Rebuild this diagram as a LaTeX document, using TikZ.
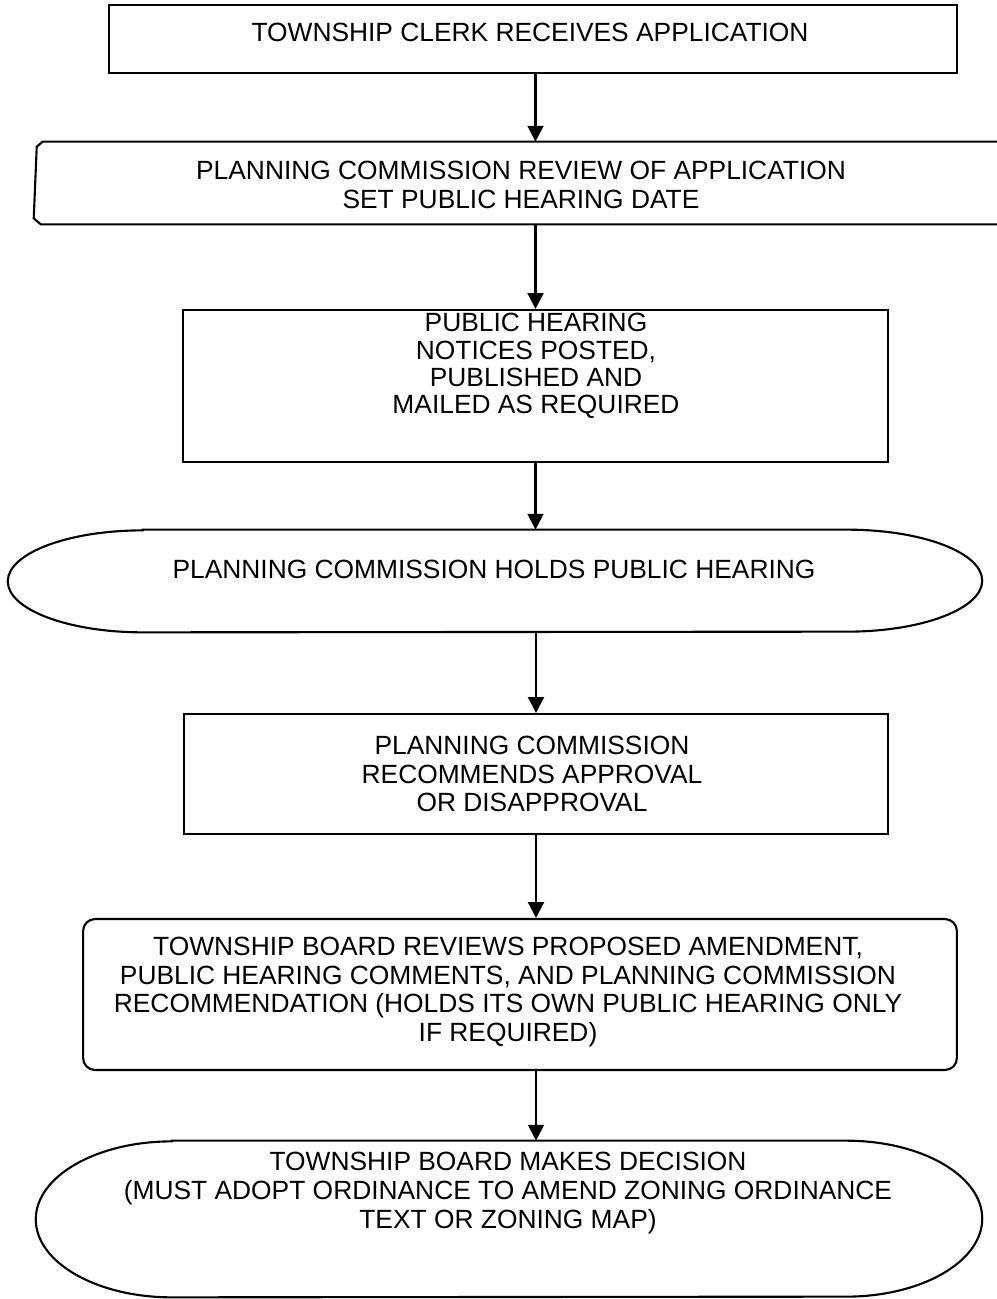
\documentclass[tikz,border=0pt]{standalone}
\usepackage{fontspec}
\setmainfont{Liberation Sans}
\usetikzlibrary{calc,arrows.meta}

\tikzset{
  stepbox/.style={draw, line width=1.2pt, inner sep=0pt},
  hollow/.style={inner sep=0pt},
  outline/.style={line width=1.2pt},
  caption/.style={align=center, inner sep=0pt, font=\fontsize{15}{16.3}\selectfont},
  flow/.style={line width=1.3pt, -{Triangle[width=9pt,length=9pt]}},
}

\begin{document}
\begin{tikzpicture}[x=0.02cm,y=-0.02cm]
\useasboundingbox (0,0) rectangle (997,1299);
% the steps
\node [stepbox, minimum width=16.96cm, minimum height=1.36cm] (clerk) at (533,39) {};
\node [hollow, minimum width=19.26cm, minimum height=1.64cm] (review) at (515.5,183) {};
\draw [outline] (review.north east) -- ($(review.north west)+(9,0)$) -- ($(review.north west)+(3,5)$) -- ($(review.south west)+(0,-6)$) -- ($(review.south west)+(7,0)$) -- (review.south east);
\node [stepbox, minimum width=14.1cm, minimum height=3.04cm] (notice) at (535.5,386) {};
\node [hollow, minimum width=19.48cm, minimum height=2.04cm] (hear) at (495,581) {};
\draw [outline] ($(hear.north west)+(135,0)$) -- ($(hear.north east)+(-135,0)$) arc[start angle=90,end angle=-90,x radius=2.7cm,y radius=1.02cm] -- ($(hear.south west)+(135,0)$) arc[start angle=270,end angle=90,x radius=2.7cm,y radius=1.02cm] -- cycle;
\node [stepbox, minimum width=14.08cm, minimum height=2.4cm] (rec) at (536,774) {};
\node [stepbox, rounded corners=0.24cm, minimum width=17.48cm, minimum height=3.02cm] (board) at (520,994.5) {};
\node [hollow, minimum width=18.92cm, minimum height=3.12cm] (decide) at (509,1219) {};
\draw [outline] ($(decide.north west)+(136,0)$) -- ($(decide.north east)+(-136,0)$) arc[start angle=90,end angle=-90,x radius=2.72cm,y radius=1.56cm] -- ($(decide.south west)+(136,0)$) arc[start angle=270,end angle=90,x radius=2.72cm,y radius=1.56cm] -- cycle;
% texts
\node [caption] (clerktxt) at (530,32) {TOWNSHIP CLERK RECEIVES APPLICATION};
\node [caption] (reviewtxt) at (521,185) {PLANNING COMMISSION REVIEW OF APPLICATION\\SET PUBLIC HEARING DATE};
\node [caption, font=\fontsize{15}{15.5}\selectfont] (noticetxt) at (536,366) {PUBLIC HEARING\\NOTICES POSTED,\\PUBLISHED AND\\MAILED AS REQUIRED};
\node [caption] (heartxt) at (494,569) {PLANNING COMMISSION HOLDS PUBLIC HEARING};
\node [caption] (rectxt) at (532,774) {PLANNING COMMISSION\\RECOMMENDS APPROVAL\\OR DISAPPROVAL};
\node [caption] (boardtxt) at (508,992) {TOWNSHIP BOARD REVIEWS PROPOSED AMENDMENT,\\PUBLIC HEARING COMMENTS, AND PLANNING COMMISSION\\RECOMMENDATION (HOLDS ITS OWN PUBLIC HEARING ONLY\\IF REQUIRED)};
\node [caption] (decidetxt) at (508,1193) {TOWNSHIP BOARD MAKES DECISION\\(MUST ADOPT ORDINANCE TO AMEND ZONING ORDINANCE\\TEXT OR ZONING MAP)};
% arrows
\draw [flow] (clerk.south -| notice.north) -- (review.north -| notice.north);
\draw [flow] (review.south -| notice.north) -- (notice.north);
\draw [flow] (notice.south) -- (hear.north -| notice.south);
\draw [flow] (hear.south -| rec.north) -- (rec.north);
\draw [flow] (rec.south) -- (board.north -| rec.south);
\draw [flow] (board.south -| rec.south) -- (decide.north -| rec.south);
\end{tikzpicture}
\end{document}
